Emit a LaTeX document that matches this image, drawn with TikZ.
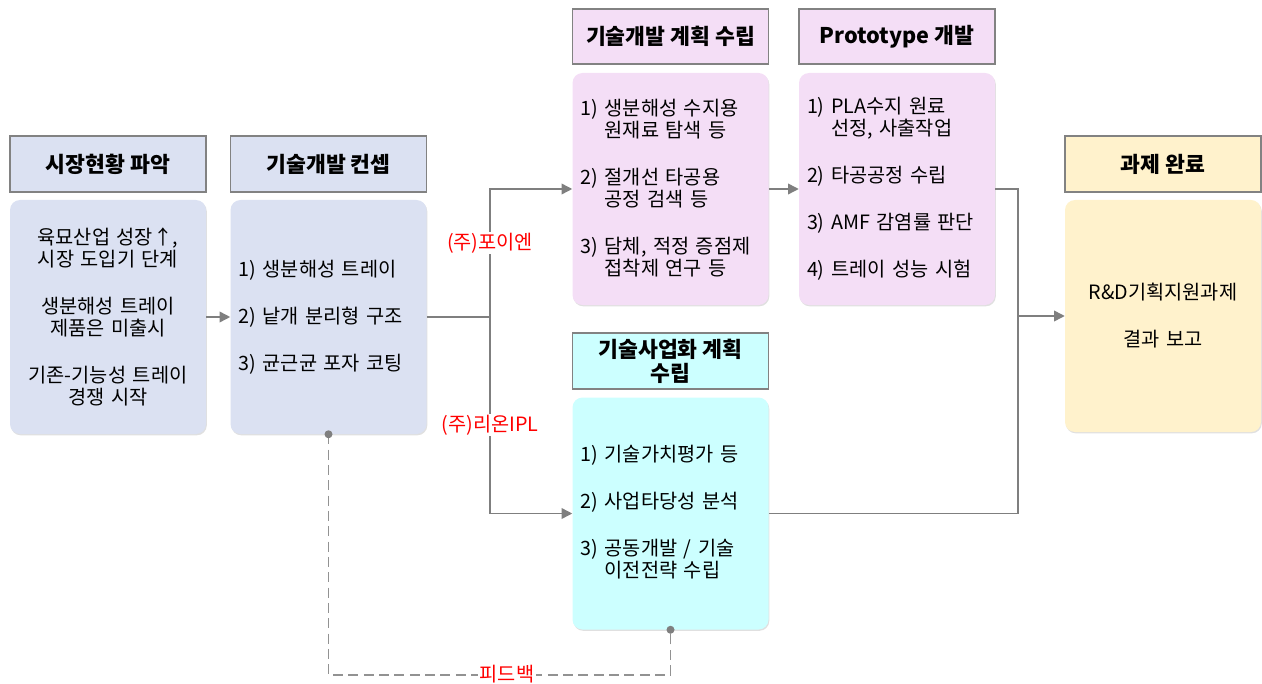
\documentclass[tikz,border=0pt]{standalone}
\usepackage{fontspec}
\setmainfont{Noto Sans CJK KR}
\usetikzlibrary{arrows.meta,shadows}
\definecolor{cblue}{HTML}{DBE1F2}
\definecolor{cpink}{HTML}{F4DEF6}
\definecolor{ccyan}{HTML}{CCFFFF}
\definecolor{cyellow}{HTML}{FFF2CC}
\definecolor{cborder}{HTML}{828282}
\definecolor{cline}{HTML}{7F7F7F}
\definecolor{cred}{HTML}{FF0000}
\newcommand{\ig}{\\[18.75pt]}
\newcommand{\ind}{\phantom{1)~}}
\begin{document}
\begin{tikzpicture}[x=0.75pt,y=-0.75pt,
  hdr/.style={draw=cborder, line width=1.1pt, minimum width=147pt, minimum height=42pt,
    inner sep=0pt, align=center, font=\fontsize{16.2}{18}\selectfont\bfseries,
    drop shadow={shadow xshift=0.6pt, shadow yshift=-0.8pt, opacity=0.12, fill=black}},
  body/.style={rounded corners=7.5pt, minimum width=147pt, inner xsep=6pt, inner ysep=0pt,
    text width=135pt, font=\fontsize{14.8}{16.5}\selectfont,
    drop shadow={shadow xshift=0.6pt, shadow yshift=-1pt, opacity=0.12, fill=black}},
  conn/.style={draw=cline, line width=1.1pt},
  arr/.style={conn, -{Triangle[length=8pt,width=8pt]}},
  fb/.style={draw=cline!85, line width=1.1pt, dash pattern=on 7.5pt off 4pt},
  lbl/.style={text=cred, font=\fontsize{14.8}{16.5}\selectfont, fill=white, inner sep=1pt},
  dot/.style={circle, fill=cline, inner sep=0pt, minimum size=6pt}
]
\useasboundingbox (0,0) rectangle (1262,684);

% headers
\node[hdr, fill=cblue] (h1) at (108,164) {시장현황 파악};
\node[hdr, fill=cblue] (h2) at (328.5,164) {기술개발 컨셉};
\node[hdr, fill=cpink, minimum height=41.25pt] (h3) at (670.5,36.5) {기술개발 계획 수립};
\node[hdr, fill=cpink, minimum height=41.25pt] (h4) at (897,36.5) {Prototype 개발};
\node[hdr, fill=ccyan] (h5) at (670.5,361) {기술사업화 계획\\수립};
\node[hdr, fill=cyellow] (h6) at (1163,164) {과제 완료};

% bodies
\node[body, fill=cblue, minimum height=175.5pt, align=center] (b1) at (108,317)
  {육묘산업 성장↑,\\시장 도입기 단계\ig 생분해성 트레이\\제품은 미출시\ig 기존-기능성 트레이\\경쟁 시작};
\node[body, fill=cblue, minimum height=175.5pt, align=left] (b2) at (328.5,317)
  {1)~생분해성 트레이\ig 2)~낱개 분리형 구조\ig 3)~균근균 포자 코팅};
\node[body, fill=cpink, minimum height=174pt, align=left] (b3) at (670.5,189)
  {1)~생분해성 수지용\\\ind 원재료 탐색 등\ig 2)~절개선 타공용\\\ind 공정 검색 등\ig 3)~담체, 적정 증점제\\\ind 접착제 연구 등};
\node[body, fill=cpink, minimum height=174pt, align=left] (b4) at (897,189)
  {1)~PLA수지 원료\\\ind 선정, 사출작업\ig 2)~타공공정 수립\ig 3)~AMF 감염률 판단\ig 4)~트레이 성능 시험};
\node[body, fill=ccyan, minimum height=174pt, align=left] (b5) at (670.5,513.5)
  {1)~기술가치평가 등\ig 2)~사업타당성 분석\ig 3)~공동개발 / 기술\\\ind 이전전략 수립};
\node[body, fill=cyellow, minimum height=174pt, align=center] (b6) at (1163,316)
  {R\&D기획지원과제\ig 결과 보고};

% connectors
\draw[arr] (b1.east) -- (b2.west);
\coordinate (split) at (490,317);
\draw[conn] (b2.east) -- (split);
\draw[arr] (split) |- (b3.west);
\draw[arr] (split) |- (b5.west);
\draw[arr] (b3.east) -- (b4.west);
\coordinate (join) at (1018,316);
\draw[conn] (b4.east) -| (join);
\draw[conn] (b5.east) -| (join);
\draw[arr] (join) -- (b6.west);

\node[lbl] (l1) at (490,243) {(주)포이엔};
\node[lbl] (l2) at (490,425) {(주)리온IPL};

% feedback
\coordinate (fb1) at (328.5,675);
\coordinate (fb2) at (670.5,675);
\draw[fb] (b2.south) -- (fb1) -- (fb2) -- (b5.south);
\node[lbl] (fbl) at (507,674) {피드백};
\node[dot] (d1) at (b2.south) {};
\node[dot] (d2) at (b5.south) {};
\end{tikzpicture}
\end{document}
